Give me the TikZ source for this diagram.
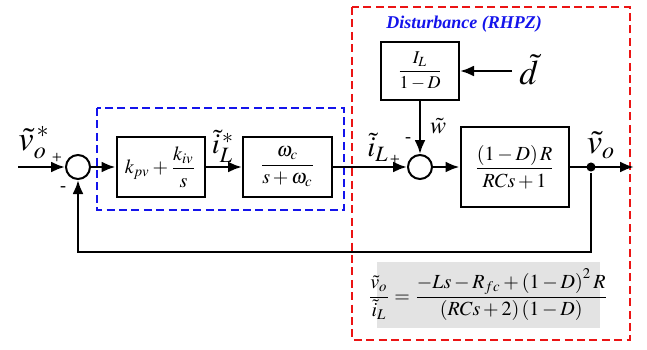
\documentclass[tikz,border=0pt]{standalone}
\usepackage{amsmath}
\usepackage{mathptmx}
\usepackage{fontspec}
\setmainfont{Liberation Serif}
\usetikzlibrary{arrows.meta,calc,positioning}
\definecolor{distblue}{RGB}{20,20,235}
\definecolor{distred}{RGB}{235,20,20}

\begin{document}
\begin{tikzpicture}[x=0.5pt, y=-0.5pt, >={Latex[length=7pt,width=5.5pt]}, line width=1.25pt,
  tfbox/.style={draw, line width=1pt, fill=white, inner sep=0pt, align=center},
  sumnode/.style={draw, circle, line width=1pt, fill=white, minimum size=12pt, inner sep=0pt},
  tapdot/.style={circle, fill, inner sep=1.6pt},
  sgn/.style={font=\small, inner sep=0pt},
  siglab/.style={inner sep=0pt}]
\useasboundingbox (0,0) rectangle (647,349);
% riquadri tratteggiati: anello di corrente e disturbo
\draw[distblue, line width=1.3pt, dash pattern=on 4pt off 2.2pt] (97,108) rectangle (344,210);
\draw[distred, line width=1.3pt, dash pattern=on 4pt off 2.2pt] (352,7) rectangle (630,340);
\node[font=\small\bfseries\itshape, text=distblue] (disttitle) at (464,24) {Disturbance (RHPZ)};
\fill[gray!22] (377,262) rectangle (600,328);
\node (tfeq) at (488,295) {$\dfrac{\tilde{v}_o}{\tilde{i}_L}=\dfrac{-Ls-R_{fc}+\left(1-D\right)^2R}{\left(RCs+2\right)\left(1-D\right)}$};
% blocchi
\node[sumnode] (sum1) at (78,167) {};
\node[tfbox, minimum width=44pt, minimum height=30pt] (pi) at (160.5,167) {$k_{pv}+\dfrac{k_{iv}}{s}$};
\node[tfbox, minimum width=44.5pt, minimum height=30pt] (lpf) at (287.5,167) {$\dfrac{\omega_c}{s+\omega_c}$};
\node[sumnode] (sum2) at (420,167) {};
\node[tfbox, minimum width=39pt, minimum height=29pt, font=\small] (dist) at (420,71) {$\dfrac{I_L}{1-D}$};
\node[tfbox, minimum width=54pt, minimum height=40pt] (plant) at (514.5,167) {$\dfrac{\left(1-D\right)R}{RCs+1}$};
\node[tapdot] (tap) at (591,167) {};
\coordinate (vref) at (18,167);
\coordinate (vout) at (634,167);
\coordinate (dsrc) at (512,71);
% collegamenti
\draw[->] (vref) -- (sum1.west);
\draw[->] (sum1.east) -- (pi.west);
\draw[->] (pi.east) -- (lpf.west);
\draw[->] (lpf.east) -- (sum2.west);
\draw[->] (dist.south) -- (sum2.north);
\draw[->] (dsrc) -- (dist.east);
\draw[->] (sum2.east) -- (plant.west);
\draw[->] (plant.east) -- (vout);
\draw[->] (tap) -- ++(0,85) -| (sum1.south);
% etichette dei segnali
\node[siglab, font=\LARGE] (lvref) at (34,143) {$\tilde{v}_o^{\,*}$};
\node[sgn] (p1) at (57,158) {+};
\node[sgn] (m1) at (63,189) {-};
\node[siglab, font=\Large] (lir) at (223,146) {$\tilde{i}_L^{\,*}$};
\node[siglab, font=\Large] (lil) at (378,147) {$\tilde{i}_L$};
\node[sgn] (p2) at (395,160) {+};
\node[sgn] (m2) at (408,140) {-};
\node[siglab, font=\large] (lw) at (438,126) {$\tilde{w}$};
\node[siglab, font=\LARGE, anchor=west] (ld) at (518,70) {$\tilde{d}$};
\node[siglab, font=\LARGE] (lvo) at (601,145) {$\tilde{v}_o$};
\end{tikzpicture}
\end{document}
